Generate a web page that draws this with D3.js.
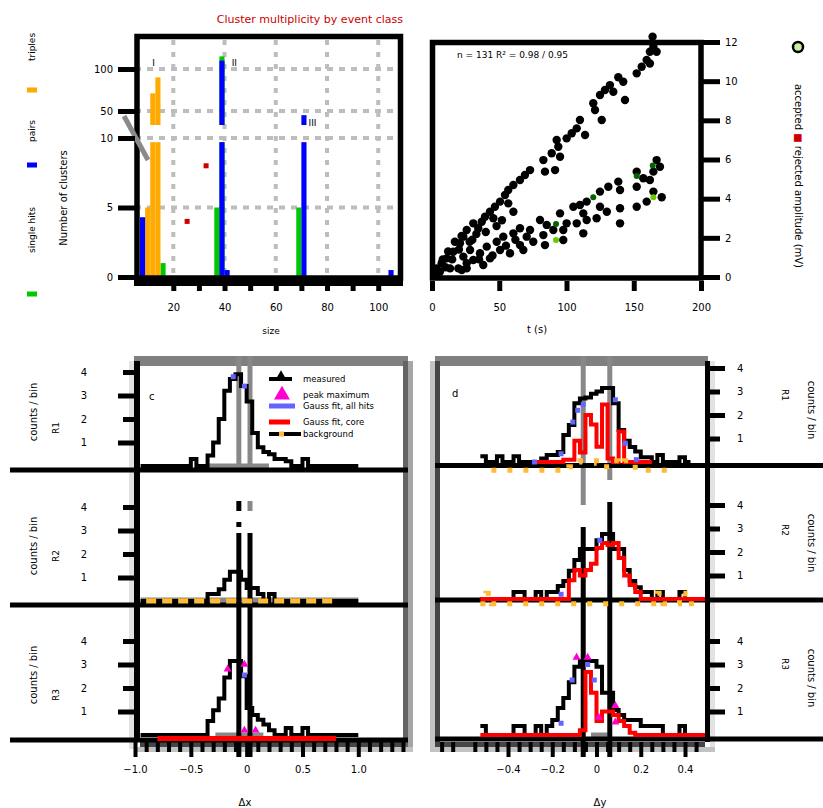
<!DOCTYPE html>
<html>
<head>
<meta charset="utf-8">
<script src="https://cdn.jsdelivr.net/npm/d3@7"></script>
<style>
  html, body { margin: 0; padding: 0; background: #fff; }
  svg { display: block; }
  text { font-family: "DejaVu Sans", Arial, sans-serif; fill: #000; }
</style>
</head>
<body>
<svg id="fig" width="823" height="808"></svg>
<script>
// ================= panel a: cluster histogram (two-segment count axis) =================
const histBinWidth = 2;
const orangeBins = [9, 11, 13];
const orangeCounts = [5, 71, 90];
const blueBins = [7, 38, 40, 70, 104];
const blueCounts = [4.3, 110, 0.5, 45, 0.5];
const greenBins = [15, 36, 38, 68];
const greenCounts = [1, 5, 115, 5];
const flaggedX = [25.4, 32.8];
const flaggedCounts = [4, 8];
const histTicksLow = [0, 5, 10];
const histTicksHigh = [50, 100];
const histXTicks = [20, 30, 40, 50, 60, 70, 80, 90, 100];
const histXLabels = [20, 40, 60, 80, 100];
const histClasses = ["triples", "pairs", "single hits"];
const peakGroups = ["I", "II", "III"];
const peakGroupX = [11, 42, 72];

// ================= panel b: amplitude vs time =================
const upperT = [164, 164.6, 162, 167, 159.6, 155.9, 162, 152.2, 138.5, 142.2, 132.3, 128.6, 134.8, 143.5, 124.9,
  119.9, 121.2, 126.2, 110, 107.6, 113.8, 103.9, 100.1, 92.7, 93.9, 89, 95.2, 82.8, 84, 91.5, 72.9, 69.1, 65.4,
  60.5, 56.7, 54.3, 50.6, 56.7, 46.8, 43.1, 60.5, 39.4, 45.6, 30.7, 37, 25.8, 34.4, 23.3, 20.8, 15.8, 10.9, 7.2,
  3.5, 13.4, 22.1, 25.8];
const upperA = [12.27, 11.76, 11.5, 11.5, 11.08, 10.74, 10.9, 10.4, 10.2, 9.97, 9.8, 9.55, 9.46, 9.04, 9.29,
  8.87, 8.53, 8.02, 8.02, 7.59, 7.25, 7.34, 7.08, 7.0, 6.65, 6.32, 6.14, 5.97, 5.38, 5.46, 5.46, 5.21, 4.95,
  4.7, 4.44, 4.19, 3.85, 3.76, 3.59, 3.33, 3.33, 3.08, 3.0, 2.74, 2.82, 2.4, 2.49, 2.06, 1.72, 1.29, 0.95, 0.7,
  0.44, 0.44, 0.36, 0.7];
const lowerT = [167, 169.5, 164.6, 152.2, 157.1, 162, 152.2, 138.5, 131.1, 139.8, 124.9, 164.6, 170.8, 159.6,
  152.2, 139.8, 130, 124.9, 115, 110, 112.5, 105.1, 122.4, 139.8, 115, 107.6, 100.1, 112.5, 95.2, 80.3, 85.3,
  97.6, 90.2, 82.8, 97.6, 84, 72.9, 65.4, 60.5, 70.4, 75.3, 53, 48.1, 65.4, 67.9, 58, 50.6, 40.7, 35.7, 43.1,
  30.7, 38.1, 25.8, 19.6, 28.3, 23.3, 5.9, 2.2];
const lowerA = [5.97, 5.63, 5.38, 5.38, 5.04, 4.95, 4.61, 4.87, 4.61, 4.44, 4.36, 4.36, 4.07, 3.85, 3.59,
  3.51, 3.33, 3.59, 3.85, 3.68, 3.25, 3.59, 3.0, 2.74, 2.91, 2.74, 2.74, 2.23, 3.25, 2.91, 2.66, 2.4, 2.4,
  2.14, 1.89, 1.63, 2.4, 2.49, 2.23, 2.06, 1.8, 2.06, 1.8, 1.63, 1.38, 1.21, 1.38, 1.55, 1.21, 0.95, 0.87,
  0.61, 0.44, 0.44, 1.38, 1.04, 0.27, 0.19];
const earlyT = [45, 55, 62, 35, 30, 20, 15, 10, 33, 40, 28, 48, 17, 12, 8, 52, 22];
const earlyA = [1.1, 1.6, 1.9, 0.9, 1.9, 1.4, 0.9, 0.5, 2.2, 2.3, 1.8, 2.6, 1.8, 1.3, 0.9, 2.9, 2.1];
const darkGreenT = [164.1, 152.2, 119.9, 92.2];
const darkGreenA = [5.7, 5.16, 4.07, 2.71];
const lightGreenT = [164.6, 92.2];
const lightGreenA = [4.07, 1.89];
const scatterXTicks = [0, 50, 100, 150, 200];
const scatterYTicks = [0, 2, 4, 6, 8, 10, 12];

// ================= panels c/d: residual histograms =================
const binStartL = -0.95, binWidthL = 0.05;   // 39 bins
const binStartR = -0.525, binWidthR = 0.025; // 41 bins
const measuredL1 = [0,0,0,0,0,0,0,0,0,0.3,0,0,0.45,1.0,2.0,3.2,3.7,3.9,3.4,2.75,1.4,0.8,0.6,0.5,0.3,0.3,0.2,0,0,0.3,0,0,0,0,0,0,0,0,0];
const measuredL2 = [0,0,0,0,0,0,0,0,0,0,0,0,0.3,0.3,0.5,0.9,1.25,1.25,0.9,0.55,0.55,0.3,0,0.3,0,0,0,0,0,0,0,0,0,0,0,0,0,0,0];
const measuredL3 = [0,0,0,0,0,0,0,0,0,0,0,0,0.6,1.05,1.55,2.45,3.15,3.15,2.5,1.15,0.85,0.65,0.45,0.2,0,0,0.3,0,0,0.3,0,0,0,0,0,0,0,0,0];
const backgroundL2 = [null,0,0,0,0,0,0,0,0,0,0,0,0,0,0,0,0,0,0,0,0,0,0,0,0,0,0,0,0,0,0,0,0,0,0,null,null,null,null];
const fitL3 = [null,null,null,-0.15,-0.15,-0.15,-0.15,-0.15,-0.15,-0.15,-0.15,-0.15,-0.15,-0.15,-0.15,-0.15,-0.15,-0.15,-0.15,-0.15,-0.15,-0.15,-0.15,-0.15,-0.15,-0.15,-0.15,-0.15,-0.15,-0.15,-0.15,-0.15,-0.15,-0.15,-0.15,null,null,null,null];
const measuredR1 = [0.25,0,0,0.25,0,0,0.25,0,0,0,0,0.15,0.3,0.3,0.43,1.15,1.57,2.5,2.7,2.75,2.9,3.0,3.15,3.15,2.5,1.36,0.9,0.64,0.45,0.2,0.2,0,0.3,0,0,0,0.2,0,null,null,null];
const measuredR2 = [0,0,0,0,0,0,0.3,0.3,0,0,0.3,0,0.3,0.3,0.55,0.77,1.2,1.66,2.13,2.13,2.13,2.5,2.77,2.77,2.13,2.13,1.23,0.77,0.5,0.3,0.3,0,0.3,0,0,0,0.3,0,0,0,0];
const measuredR3 = [0.38,0,0,0,0,0,0.38,0.38,0,0,0.38,0,0.38,0.64,1.15,1.57,2.25,2.9,3.15,3.15,3.15,2.9,1.8,1.8,1.06,0.85,0.64,0.64,0.64,0.38,0.38,0.38,0.38,0,0,0,0.38,0,0,0,0];
const fitR1 = [null,null,null,null,null,null,null,null,null,null,0,0,0,0,0,0.1,0.1,0.9,0.4,2.0,1.6,0.65,2.45,0.15,0,1.3,0,0,0,0,0,null,null,null,null,null,null,null,null,null,null];
const fitR2 = [0,0,0,0,0,0,0,0,0,0,0,0,0,0,0,0,0.8,1.23,1.0,1.23,1.5,2.17,2.38,2.3,2.38,1.74,1.0,0.6,0.3,0,0,0,0,0,0,0,0,0,0,0,0];
const fitR3 = [0,0,0,0,0,0,0,0,0,0,0,0,0,0,0,0,0,0,0.2,2.68,1.8,0.6,1.0,1.0,0.85,0.6,0.38,0.1,0,0,0,0,0,0,0,0,0,0,0,0,0];
const backgroundR1 = [null,null,-0.35,-0.35,-0.35,-0.35,-0.35,-0.35,-0.35,-0.35,-0.35,-0.35,-0.35,-0.35,-0.35,-0.35,-0.2,0,0.05,0.05,0.05,-0.05,-0.2,-0.2,0.05,-0.1,0.05,-0.1,-0.35,-0.35,-0.35,-0.35,-0.35,-0.35,-0.35,null,null,null,null,null,null];
const backgroundR2 = [-0.2,0.25,-0.2,-0.2,-0.2,-0.2,-0.2,-0.2,-0.2,-0.2,-0.2,-0.2,-0.2,-0.2,-0.2,-0.2,-0.2,-0.2,-0.2,-0.2,-0.2,-0.2,-0.2,-0.2,-0.2,-0.2,-0.2,-0.2,-0.2,-0.2,-0.2,-0.2,0.25,-0.2,-0.2,-0.2,0.25,-0.2,-0.2,-0.2,null];
const coreRangeL = [[-0.34, 0.2], [-0.95, 1.0], [-0.28, 0.15]];
const coreRangeR3 = [-0.025, 0.05];
const refLinesL = [-0.07, 0.03];
const refLinesR = [-0.06, 0.06];
const blueRowL = [0, 0, 2], blueVL = [-0.12, -0.02, -0.02], blueCL = [3.8, 3.4, 2.55];
const magentaRowL = [2, 2, 2, 2], magentaVL = [-0.17, -0.02, -0.02, 0.08], magentaCL = [2.8, 3.0, 0.2, 0.2];
const blueRowR = [0,0,0,0,0,0,0,0,1,1,2,2,2,2];
const blueVR = [-0.06,-0.085,-0.107,-0.16,-0.28,0.085,0.13,0.18,0.015,-0.16,-0.04,-0.11,-0.01,-0.16];
const blueCR = [2.45,2.2,1.7,0.35,0,2.65,0.8,0.1,2.5,0.2,3.0,2.34,2.34,0.5];
const magentaRowR = [2,2,2,2,2], magentaVR = [-0.09,-0.04,0.085,0.085,0.01], magentaCR = [3.3,3.3,1.25,0.55,0.75];
const countTicks = [1, 2, 3, 4];
const majorTicksL = [-1, -0.5, 0, 0.5, 1];
const majorTicksR = [-0.4, -0.2, 0, 0.2, 0.4];
const legendLabels = ["measured", "peak maximum", "Gauss fit, all hits", "Gauss fit, core", "background"];

// ---------------------------------------------------------------------------
const svg = d3.select("#fig");
const FF = "DejaVu Sans, Arial, sans-serif";

function rect(g, x, y, w, h, fill) {
  return g.append("rect").attr("x", x).attr("y", y).attr("width", w).attr("height", h).attr("fill", fill);
}
function hline(g, x1, x2, y, color, sw) {
  return g.append("line").attr("x1", x1).attr("x2", x2).attr("y1", y).attr("y2", y)
    .attr("stroke", color).attr("stroke-width", sw);
}
function vline(g, x, y1, y2, color, sw) {
  return g.append("line").attr("x1", x).attr("x2", x).attr("y1", y1).attr("y2", y2)
    .attr("stroke", color).attr("stroke-width", sw);
}
function txt(g, x, y, s, size = 10, anchor = "start", color = "#000") {
  return g.append("text").attr("x", x).attr("y", y).attr("font-size", size)
    .attr("text-anchor", anchor).attr("fill", color).style("fill", color).text(s);
}
function vtxt(g, x, y, s, angle = -90, size = 10, color = "#000") {
  return g.append("text").attr("transform", `translate(${x},${y}) rotate(${angle})`)
    .attr("text-anchor", "middle").attr("dy", "0.35em").attr("font-size", size)
    .style("fill", color).text(s);
}
function axis(g, ax, sw = 5) {
  g.call(ax);
  g.attr("font-family", FF).attr("font-size", 10);
  g.select(".domain").remove();
  g.selectAll(".tick line").attr("stroke", "#000").attr("stroke-width", sw);
  g.selectAll(".tick text").attr("fill", "#000").style("fill", "#000");
  return g;
}

// ============================== panel a ==============================
const xA = d3.scaleLinear().domain([7, 108.5]).range([140, 400]);
const yLo = d3.scaleLinear().domain([0, 10]).range([277, 138]);
const yHi = d3.scaleLinear().domain([33.3, 134.5]).range([125, 40]);
const gA = svg.append("g");

// dashed grid
histXLabels.forEach(v => vline(gA, xA(v), 40, 277, "#bdbdbd", 4).attr("stroke-dasharray", "5,7"));
[...histTicksHigh.map(v => yHi(v)), ...histTicksLow.filter(v => v > 0).map(v => yLo(v))]
  .forEach(y => hline(gA, 135, 403, y, "#bdbdbd", 4).attr("stroke-dasharray", "6,6"));

function bars(starts, counts, color) {
  starts.forEach((s, i) => {
    const n = counts[i], x0 = xA(s), w = xA(s + histBinWidth) - x0;
    const top = yLo(Math.min(n, 9.7));
    rect(gA, x0, top, w, yLo(0) - top, color);
    if (n > 10) rect(gA, x0, yHi(n), w, yHi.range()[0] - yHi(n), color);
  });
}
bars(greenBins, greenCounts, "#00c800");
bars(orangeBins, orangeCounts, "#ffaa00");
bars(blueBins, blueCounts, "#0000ff");

flaggedX.forEach((x, i) => rect(gA, xA(x) - 2.5, yLo(flaggedCounts[i]) - 2.5, 5, 5, "#cc0000"));
peakGroups.forEach((s, i) => txt(gA, xA(peakGroupX[i]) + 2, i < 2 ? 66 : 126, s, 9));

// frame + axes
gA.append("rect").attr("x", 137).attr("y", 36.5).attr("width", 263.5).attr("height", 241.5)
  .attr("fill", "none").attr("stroke", "#000").attr("stroke-width", 5.5);
rect(gA, 134, 278, 269, 8, "#000");
// axis break mark
gA.append("line").attr("x1", 124).attr("y1", 116).attr("x2", 148).attr("y2", 160)
  .attr("stroke", "#8a8a8a").attr("stroke-width", 5);
axis(gA.append("g").attr("transform", "translate(135,0)"),
  d3.axisLeft(yLo).tickValues(histTicksLow).tickSize(17).tickPadding(5));
axis(gA.append("g").attr("transform", "translate(135,0)"),
  d3.axisLeft(yHi).tickValues(histTicksHigh).tickSize(17).tickPadding(5));
axis(gA.append("g").attr("transform", "translate(0,286)"),
  d3.axisBottom(xA).tickValues(histXTicks).tickSize(5).tickFormat(""));
axis(gA.append("g").attr("transform", "translate(0,286)"),
  d3.axisBottom(xA).tickValues(histXLabels).tickSize(0).tickPadding(18));
txt(gA, 271, 334, "size", 9, "middle");
txt(gA, 403, 23, "Cluster multiplicity by event class", 11, "end", "#cc0000");

// legend column on the far left
const swatchY = [90, 165, 294], swatchCol = ["#ffaa00", "#0000ff", "#00c800"];
swatchY.forEach((y, i) => rect(gA, 27, y - 2.5, 10, 5, swatchCol[i]));
vtxt(gA, 32, 47, histClasses[0], -90, 9);
vtxt(gA, 32, 131, histClasses[1], -90, 9);
vtxt(gA, 32, 230, histClasses[2], -90, 9);
vtxt(gA, 63, 198, "Number of clusters", -90, 10);

// ============================== panel b ==============================
const xB = d3.scaleLinear().domain([0, 200]).range([432, 701]);
const yB = d3.scaleLinear().domain([0, 12]).range([277, 42]);
const gB = svg.append("g");
function dots(T, A, fill, r = 4.2, stroke = null) {
  gB.append("g").selectAll("circle").data(d3.zip(T, A)).join("circle")
    .attr("cx", d => xB(d[0])).attr("cy", d => yB(d[1])).attr("r", r)
    .attr("fill", fill).attr("stroke", stroke);
}
dots(upperT, upperA, "#000");
dots(lowerT, lowerA, "#000");
dots(earlyT, earlyA, "#000");
dots(darkGreenT, darkGreenA, "#006400", 3);
dots(lightGreenT, lightGreenA, "#66cc00", 3);
gB.append("rect").attr("x", 432.5).attr("y", 42.5).attr("width", 268.5).attr("height", 235.5)
  .attr("fill", "none").attr("stroke", "#000").attr("stroke-width", 5.5);
axis(gB.append("g").attr("transform", "translate(703,0)"),
  d3.axisRight(yB).tickValues(scatterYTicks).tickSize(17).tickPadding(5));
axis(gB.append("g").attr("transform", "translate(0,281)"),
  d3.axisBottom(xB).tickValues(scatterXTicks).tickSize(10).tickPadding(13));
txt(gB, 537, 333, "t (s)", 10, "middle");
txt(gB, 457, 58, "n = 131    R\u00b2 = 0.98 / 0.95", 9);
gB.append("circle").attr("cx", 798).attr("cy", 47).attr("r", 5)
  .attr("fill", "#c8f0a0").attr("stroke", "#000").attr("stroke-width", 2.5);
const ylabB = gB.append("text").attr("transform", "translate(798,176) rotate(90)")
  .attr("text-anchor", "middle").attr("dy", "0.35em").attr("font-size", 10);
ylabB.append("tspan").text("accepted  ");
ylabB.append("tspan").style("fill", "#cc0000").text("\u25a0");
ylabB.append("tspan").text(" rejected   amplitude (mV)");

// ============================== panels c / d ==============================
const xL = d3.scaleLinear().domain([-1, 1]).range([135, 358.3]);
const xR = d3.scaleLinear().domain([-0.4, 0.4]).range([508, 685]);
const zeroL = [466, 601, 735], zeroR = [462, 599, 735];
const rowScale = z => d3.scaleLinear().domain([0, 4]).range([z, z - 94]);
const yL = zeroL.map(rowScale), yR = zeroR.map(rowScale);
const gC = svg.append("g"), gD = svg.append("g");

function stepPoints(start, width, vals) {
  const pts = [];
  vals.forEach((v, i) => {
    if (v == null) { pts.push(null); return; }
    pts.push([start + i * width, v], [start + (i + 1) * width, v]);
  });
  return pts;
}
function stepPath(g, xs, ys, start, width, vals, color, sw, dash) {
  const line = d3.line().defined(d => d != null).x(d => xs(d[0])).y(d => ys(d[1]));
  const p = g.append("path").attr("d", line(stepPoints(start, width, vals)))
    .attr("fill", "none").attr("stroke", color).attr("stroke-width", sw)
    .attr("stroke-linejoin", "miter");
  if (dash) p.attr("stroke-dasharray", dash);
  return p;
}

// frame bands
rect(gC, 134, 356, 274, 10, "#808080");
rect(gC, 129, 361, 5, 388, "#e2e2e2");
rect(gC, 403, 361, 5, 386, "#646464");
rect(gC, 408, 361, 5, 391, "#a6a6a6");
rect(gC, 140, 742, 263, 5, "#454545");
rect(gC, 134, 747, 279, 5, "#c2c2c2");
rect(gD, 435, 356, 273, 10, "#808080");
rect(gD, 430, 361, 5, 391, "#c2c2c2");
rect(gD, 435, 361, 5, 386, "#454545");
rect(gD, 710, 361, 5, 391, "#e2e2e2");
rect(gD, 440, 742, 265, 5, "#454545");
rect(gD, 430, 747, 285, 5, "#c2c2c2");

// reference lines (grey in the top row)
refLinesL.forEach(v => vline(gC, xL(v), 356, 470, "#888", 5));
vline(gD, xR(refLinesR[0]), 356, 505, "#888", 5);
vline(gD, xR(refLinesR[1]), 356, 480, "#888", 5);

// core ranges along the zero line
coreRangeL.forEach((r, i) => hline(gC, xL(r[0]), xL(r[1]), yL[i](0), "#888", i === 1 ? 7 : 5));
hline(gD, xR(coreRangeR3[0]), xR(coreRangeR3[1]), yR[2](0), "#888", 5);

// measured histograms
[measuredL1, measuredL2, measuredL3].forEach((vals, i) =>
  stepPath(gC, xL, yL[i], binStartL, binWidthL, vals, "#000", 4));
[measuredR1, measuredR2, measuredR3].forEach((vals, i) =>
  stepPath(gD, xR, yR[i], binStartR, binWidthR, vals, "#000", 4));

// reference lines (black in the lower rows)
refLinesL.forEach(v => vline(gC, xL(v), 533, 757, "#000", 5));
vline(gC, xL(refLinesL[0]), 501, 511, "#000", 5);
vline(gC, xL(refLinesL[1]), 501, 511, "#888", 5);
vline(gC, xL(refLinesL[0]), 522, 527, "#000", 5);
vline(gD, xR(refLinesR[0]), 527, 757, "#000", 5);
vline(gD, xR(refLinesR[1]), 502, 757, "#000", 5);

// row separators
[470, 605, 740].forEach(y => hline(gC, 10, 408, y, "#000", 5));
[465.5, 600, 739].forEach(y => hline(gD, 435, 823, y, "#000", 5));

// fits and backgrounds
stepPath(gC, xL, yL[2], binStartL, binWidthL, fitL3, "#ff0000", 5);
stepPath(gC, xL, yL[1], binStartL, binWidthL, backgroundL2, "#ffbb33", 5, "10,6");
[fitR1, fitR2, fitR3].forEach((vals, i) =>
  stepPath(gD, xR, yR[i], binStartR, binWidthR, vals, "#ff0000", 4));
stepPath(gD, xR, yR[0], binStartR, binWidthR, backgroundR1, "#ffbb33", 5, "5,11");
stepPath(gD, xR, yR[1], binStartR, binWidthR, backgroundR2, "#ffbb33", 5, "5,11");

// markers
function squares(g, xs, ys, rows, V, C, color) {
  V.forEach((v, i) => rect(g, xs(v) - 2.5, ys[rows[i]](C[i]) - 2.5, 5, 5, color));
}
function triangles(g, xs, ys, rows, V, C, color, size = 28) {
  const sym = d3.symbol().type(d3.symbolTriangle).size(size);
  V.forEach((v, i) => g.append("path").attr("d", sym())
    .attr("transform", `translate(${xs(v)},${ys[rows[i]](C[i])})`).attr("fill", color));
}
squares(gC, xL, yL, blueRowL, blueVL, blueCL, "#6464ff");
squares(gD, xR, yR, blueRowR, blueVR, blueCR, "#6464ff");
triangles(gC, xL, yL, magentaRowL, magentaVL, magentaCL, "#ff00d0");
triangles(gD, xR, yR, magentaRowR, magentaVR, magentaCR, "#ff00d0");

// spines
rect(gC, 134, 361, 6, 381, "#000");
rect(gD, 705, 361, 5, 381, "#000");

// y axes per row
const fmtC = d3.format("d");
yL.forEach(ys => {
  const g = gC.append("g").attr("transform", "translate(134,0)");
  axis(g.append("g"), d3.axisLeft(ys).tickValues([1, 3]).tickSize(16).tickFormat(""));
  axis(g.append("g"), d3.axisLeft(ys).tickValues([2, 4]).tickSize(11).tickFormat(""));
  axis(g.append("g"), d3.axisLeft(ys).tickValues(countTicks).tickSize(0).tickPadding(47).tickFormat(fmtC));
});
const longR = [[4, 2], [4, 2, 1], [3, 1]];
yR.forEach((ys, i) => {
  const g = gD.append("g").attr("transform", "translate(710,0)");
  const shortT = countTicks.filter(t => !longR[i].includes(t));
  axis(g.append("g"), d3.axisRight(ys).tickValues(longR[i]).tickSize(15).tickFormat(""));
  axis(g.append("g"), d3.axisRight(ys).tickValues(shortT).tickSize(10).tickFormat(""));
  axis(g.append("g"), d3.axisRight(ys).tickValues(countTicks).tickSize(0).tickPadding(27).tickFormat(fmtC));
});

// x axes
const fmtX = d => d === 0 ? "0" : d3.format(".1f")(d);
const minorL = d3.range(-10, 15).map(i => i / 10).filter(v => Math.abs(v * 2 - Math.round(v * 2)) > 1e-6);
const minorR = d3.range(-14, 10).map(i => i / 20).filter(v => Math.abs(v * 5 - Math.round(v * 5)) > 1e-6);
axis(gC.append("g").attr("transform", "translate(0,742)"),
  d3.axisBottom(xL).tickValues(minorL).tickSize(10).tickFormat(""), 4);
axis(gC.append("g").attr("transform", "translate(0,742)"),
  d3.axisBottom(xL).tickValues(majorTicksL).tickSize(15).tickPadding(9).tickFormat(fmtX), 4);
axis(gD.append("g").attr("transform", "translate(0,742)"),
  d3.axisBottom(xR).tickValues(minorR).tickSize(10).tickFormat(""), 4);
axis(gD.append("g").attr("transform", "translate(0,742)"),
  d3.axisBottom(xR).tickValues(majorTicksR).tickSize(15).tickPadding(9).tickFormat(fmtX), 4);
txt(gC, 245, 806, "\u0394x", 10, "middle");
txt(gD, 600, 806, "\u0394y", 10, "middle");

// panel letters
txt(gC, 149, 400, "c", 10);
txt(gD, 452, 397, "d", 10);

// row labels outside the plots
const rowNames = ["R1", "R2", "R3"];
[412, 546, 675].forEach((y, i) => vtxt(gC, 33, y, "counts / bin", -90, 10));
[428, 556, 695].forEach((y, i) => vtxt(gC, 56, y, rowNames[i], -90, 9));
[410, 543, 678].forEach((y, i) => vtxt(gD, 811, y, "counts / bin", 90, 10));
[395, 530, 664].forEach((y, i) => vtxt(gD, 785, y, rowNames[i], 90, 9));

// legend (top-left residual panel)
const gLeg = gC.append("g");
const legY = [379, 395, 406, 422, 434];
hline(gLeg, 269, 292, legY[0], "#000", 4);
gLeg.append("path").attr("d", d3.symbol().type(d3.symbolTriangle).size(30)())
  .attr("transform", `translate(281,${legY[0] - 4})`).attr("fill", "#000");
gLeg.append("path").attr("d", d3.symbol().type(d3.symbolTriangle).size(110)())
  .attr("transform", `translate(282,${legY[1]})`).attr("fill", "#ff00d0");
hline(gLeg, 269, 295, legY[2], "#6464ff", 5);
hline(gLeg, 269, 290, legY[3], "#ff0000", 5);
hline(gLeg, 269, 301, legY[4], "#000", 4);
rect(gLeg, 279, legY[4] - 2.5, 5, 5, "#ffbb33");
legendLabels.forEach((s, i) => txt(gLeg, 303, legY[i] + 3, s, 8.5));
</script>
</body>
</html>
